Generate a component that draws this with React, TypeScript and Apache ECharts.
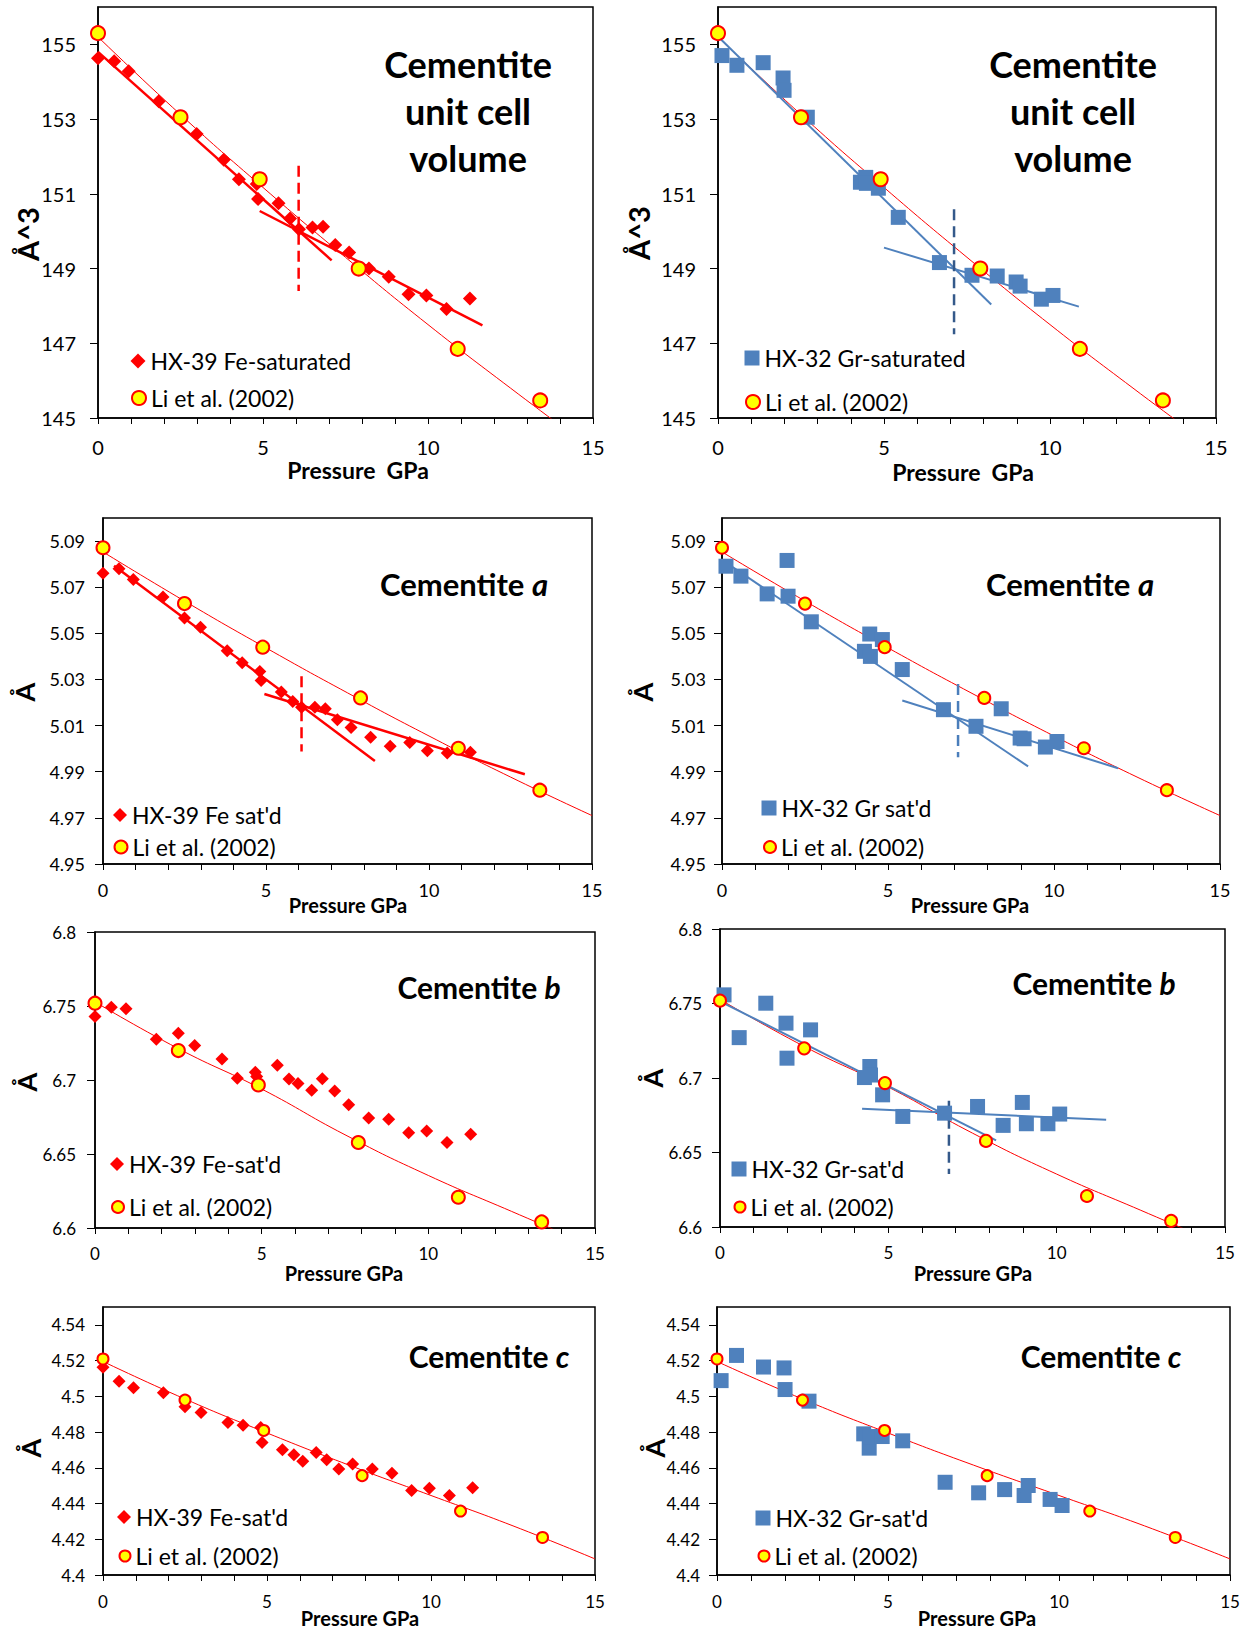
import React, { useEffect, useRef } from "react";
import * as echarts from "echarts";

const FONT = "Lato, 'Open Sans', 'DejaVu Sans', sans-serif";

// ---------------- data ----------------
// HX-39 (Fe-saturated) pressures, GPa
const pressureFe = [0, 0.49, 0.93, 1.84, 2.5, 2.99, 3.81, 4.27, 4.81, 4.85, 5.47, 5.82, 6.09, 6.5, 6.82, 7.19, 7.61, 8.21, 8.81, 9.41, 9.95, 10.56, 11.27];
const volumeFe = [154.63, 154.55, 154.28, 153.48, 152.98, 152.6, 151.91, 151.39, 151.26, 150.86, 150.75, 150.34, 150.05, 150.1, 150.12, 149.63, 149.43, 149.0, 148.78, 148.31, 148.28, 147.92, 148.2];
const aFe = [5.076, 5.078, 5.0733, 5.0658, 5.0567, 5.0526, 5.0425, 5.0372, 5.0335, 5.0296, 5.0246, 5.0205, 5.018, 5.018, 5.0173, 5.0125, 5.0092, 5.005, 5.001, 5.0027, 4.9991, 4.9981, 4.9985];
const bFe = [6.7429, 6.7492, 6.7481, 6.7275, 6.7316, 6.7233, 6.7142, 6.7011, 6.7052, 6.7023, 6.7099, 6.7007, 6.6977, 6.693, 6.7009, 6.6925, 6.6833, 6.6743, 6.6734, 6.6643, 6.6655, 6.6578, 6.6634];
const cFe = [4.5163, 4.5085, 4.5048, 4.502, 4.4942, 4.4909, 4.4853, 4.4838, 4.4825, 4.4742, 4.4701, 4.4673, 4.4636, 4.4686, 4.4645, 4.4593, 4.4621, 4.4593, 4.4569, 4.4473, 4.4486, 4.4445, 4.4488];

// HX-32 (Gr-saturated)
const pressureGr = [0.12, 0.57, 1.36, 1.96, 1.99, 2.69, 4.29, 4.45, 4.47, 4.83, 5.43, 6.67, 7.65, 8.41, 8.98, 9.1, 9.74, 10.09];
const volumeGr = [154.7, 154.44, 154.51, 154.1, 153.77, 153.05, 151.31, 151.44, 151.28, 151.15, 150.37, 149.16, 148.82, 148.8, 148.64, 148.53, 148.18, 148.28];
const aGr = [5.0791, 5.0748, 5.0671, 5.0816, 5.0661, 5.055, 5.0422, 5.0497, 5.04, 5.0473, 5.0343, 5.0169, 5.0097, 5.0173, 5.0046, 5.0043, 5.0007, 5.0031];
const bGr = [6.7558, 6.7271, 6.7502, 6.7368, 6.7133, 6.7323, 6.7003, 6.7077, 6.702, 6.6887, 6.6742, 6.6764, 6.6809, 6.6682, 6.6836, 6.6693, 6.6693, 6.6758];
const cGr = [4.5088, 4.5229, 4.5164, 4.5159, 4.5038, 4.4973, 4.479, 4.471, 4.4775, 4.4775, 4.4751, 4.4519, 4.446, 4.4478, 4.4445, 4.4501, 4.4423, 4.4389];

// Li et al. (2002)
const pressureLi = [0, 2.5, 4.9, 7.9, 10.9, 13.4];
const volumeLi = [155.3, 153.05, 151.39, 149.0, 146.85, 145.47];
const aLi = [5.0871, 5.0629, 5.044, 5.022, 5.0002, 4.982];
const bLi = [6.7519, 6.7199, 6.6966, 6.6578, 6.6208, 6.6041];
const cLi = [4.5209, 4.4979, 4.4809, 4.4556, 4.4358, 4.421];

// Li et al. fit curves, read at these pressures
const fitPressures = [0, 2.5, 5, 7.5, 10, 12.5, 15];
const volumeLiFit = [155.2, 153.12, 151.17, 149.3, 147.5, 145.8, 144.15];
const aLiFit = [5.0853, 5.064, 5.0437, 5.0242, 5.0055, 4.9877, 4.971];
const bLiFit = [6.7528, 6.7212, 6.6939, 6.663, 6.6355, 6.6112, 6.587];
const cLiFit = [4.5195, 4.4985, 4.4795, 4.4615, 4.4445, 4.4275, 4.409];

// fitted segments [P, value] and break lines [P, top, bottom]
const feVolumeFit1 = [[0, 154.8], [7.08, 149.22]];
const feVolumeFit2 = [[4.9, 150.54], [11.65, 147.48]];
const feVolumeBreak = [6.08, 151.75, 148.4];
const grVolumeFit1 = [[0, 155.21], [8.23, 148.04]];
const grVolumeFit2 = [[5.0, 149.56], [10.87, 147.98]];
const grVolumeBreak = [7.11, 150.59, 147.24];
const feAFit1 = [[0.34, 5.0793], [8.34, 4.9947]];
const feAFit2 = [[4.95, 5.0237], [12.94, 4.9889]];
const feABreak = [6.09, 5.0314, 4.9988];
const grAFit1 = [[0.13, 5.0806], [9.22, 4.9923]];
const grAFit2 = [[5.43, 5.0209], [11.93, 4.9915]];
const grABreak = [7.11, 5.028, 4.9963];
const grBFit1 = [[0.06, 6.7508], [8.2, 6.6581]];
const grBFit2 = [[4.22, 6.6793], [11.47, 6.672]];
const grBBreak = [6.8, 6.6847, 6.6355];

// tick labels
const volumeTicks = [145, 147, 149, 151, 153, 155];
const aTicks = [4.95, 4.97, 4.99, 5.01, 5.03, 5.05, 5.07, 5.09];
const bTicks = [6.6, 6.65, 6.7, 6.75, 6.8];
const cTicks = [4.4, 4.42, 4.44, 4.46, 4.48, 4.5, 4.52, 4.54];

const LI_NAME = "Li et al. (2002)";
const RED = "#FF0000";
const BLUE = "#4F81BD";

const zip = (xs: number[], ys: number[]) => xs.map((x, i) => [x, ys[i]]);

const panels: any[] = [
  {
    grid: { left: 98, top: 7, width: 495, height: 411 },
    yMin: 145, yMax: 156, yTicks: volumeTicks, tickFont: 20, xMargin: 19, yMargin: 22,
    sample: { name: "HX-39 Fe-saturated", x: pressureFe, y: volumeFe, symbol: "diamond", size: 14, color: RED },
    li: volumeLi, liSize: 14, liFit: volumeLiFit,
    fits: [feVolumeFit1, feVolumeFit2], fitColor: RED, fitWidth: 2.5, dash: feVolumeBreak, dashColor: RED,
    title: { text: "Cementite\nunit cell\nvolume", x: 468, y: 111, size: 36 },
    xName: { text: "Pressure  GPa", x: 358, y: 470, size: 23 },
    yName: { text: "Å^3", x: 27, y: 234, size: 29 },
    legend: { x: 138, y1: 361, y2: 398, s1: 15, s2: 14 },
  },
  {
    grid: { left: 718, top: 7, width: 498, height: 411 },
    yMin: 145, yMax: 156, yTicks: volumeTicks, tickFont: 20, xMargin: 19, yMargin: 22,
    sample: { name: "HX-32 Gr-saturated", x: pressureGr, y: volumeGr, symbol: "rect", size: 15, color: BLUE },
    li: volumeLi, liSize: 14, liFit: volumeLiFit,
    fits: [grVolumeFit1, grVolumeFit2], fitColor: BLUE, fitWidth: 2, dash: grVolumeBreak, dashColor: "#34598A",
    title: { text: "Cementite\nunit cell\nvolume", x: 1073, y: 111, size: 36 },
    xName: { text: "Pressure  GPa", x: 963, y: 472, size: 23 },
    yName: { text: "Å^3", x: 638, y: 233, size: 29 },
    legend: { x: 752, y1: 358, y2: 402, s1: 15, s2: 14 },
  },
  {
    grid: { left: 103, top: 518, width: 489, height: 346 },
    yMin: 4.95, yMax: 5.1, yTicks: aTicks, tickFont: 18, xMargin: 17, yMargin: 18,
    sample: { name: "HX-39 Fe sat'd", x: pressureFe, y: aFe, symbol: "diamond", size: 13, color: RED },
    li: aLi, liSize: 13, liFit: aLiFit,
    fits: [feAFit1, feAFit2], fitColor: RED, fitWidth: 2.5, dash: feABreak, dashColor: RED,
    title: { italic: "a", x: 464, y: 584, size: 31 },
    xName: { text: "Pressure GPa", x: 348, y: 905, size: 20 },
    yName: { text: "Å", x: 24, y: 692, size: 27 },
    legend: { x: 120, y1: 815, y2: 847, s1: 14, s2: 13 },
  },
  {
    grid: { left: 722, top: 518, width: 498, height: 346 },
    yMin: 4.95, yMax: 5.1, yTicks: aTicks, tickFont: 18, xMargin: 17, yMargin: 16,
    sample: { name: "HX-32 Gr sat'd", x: pressureGr, y: aGr, symbol: "rect", size: 15, color: BLUE },
    li: aLi, liSize: 12, liFit: aLiFit,
    fits: [grAFit1, grAFit2], fitColor: BLUE, fitWidth: 2, dash: grABreak, dashColor: "#4A7EBB",
    title: { italic: "a", x: 1070, y: 584, size: 31 },
    xName: { text: "Pressure GPa", x: 970, y: 905, size: 20 },
    yName: { text: "Å", x: 642, y: 692, size: 27 },
    legend: { x: 769, y1: 808, y2: 847, s1: 15, s2: 12 },
  },
  {
    grid: { left: 95, top: 932, width: 500, height: 296 },
    yMin: 6.6, yMax: 6.8, yTicks: bTicks, tickFont: 17, xMargin: 17, yMargin: 19,
    sample: { name: "HX-39 Fe-sat'd", x: pressureFe, y: bFe, symbol: "diamond", size: 13, color: RED },
    li: bLi, liSize: 13, liFit: bLiFit,
    fits: [], fitColor: RED, fitWidth: 2.5, dash: null, dashColor: RED,
    title: { italic: "b", x: 479, y: 987, size: 30 },
    xName: { text: "Pressure GPa", x: 344, y: 1273, size: 20 },
    yName: { text: "Å", x: 26, y: 1082, size: 27 },
    legend: { x: 117, y1: 1164, y2: 1207, s1: 14, s2: 12 },
  },
  {
    grid: { left: 720, top: 929, width: 505, height: 298 },
    yMin: 6.6, yMax: 6.8, yTicks: bTicks, tickFont: 17, xMargin: 17, yMargin: 18,
    sample: { name: "HX-32 Gr-sat'd", x: pressureGr, y: bGr, symbol: "rect", size: 15, color: BLUE },
    li: bLi, liSize: 12, liFit: bLiFit,
    fits: [grBFit1, grBFit2], fitColor: BLUE, fitWidth: 2, dash: grBBreak, dashColor: "#34598A",
    title: { italic: "b", x: 1094, y: 983, size: 30 },
    xName: { text: "Pressure GPa", x: 973, y: 1273, size: 20 },
    yName: { text: "Å", x: 652, y: 1078, size: 27 },
    legend: { x: 739, y1: 1169, y2: 1207, s1: 15, s2: 11 },
  },
  {
    grid: { left: 103, top: 1307, width: 492, height: 268 },
    yMin: 4.4, yMax: 4.55, yTicks: cTicks, tickFont: 17, xMargin: 18, yMargin: 18,
    sample: { name: "HX-39 Fe-sat'd", x: pressureFe, y: cFe, symbol: "diamond", size: 13, color: RED },
    li: cLi, liSize: 11, liFit: cLiFit,
    fits: [], fitColor: RED, fitWidth: 2.5, dash: null, dashColor: RED,
    title: { italic: "c", x: 489, y: 1356, size: 30 },
    xName: { text: "Pressure GPa", x: 360, y: 1618, size: 20 },
    yName: { text: "Å", x: 30, y: 1448, size: 27 },
    legend: { x: 124, y1: 1517, y2: 1556, s1: 14, s2: 11 },
  },
  {
    grid: { left: 717, top: 1307, width: 513, height: 268 },
    yMin: 4.4, yMax: 4.55, yTicks: cTicks, tickFont: 17, xMargin: 18, yMargin: 17,
    sample: { name: "HX-32 Gr-sat'd", x: pressureGr, y: cGr, symbol: "rect", size: 15, color: BLUE },
    li: cLi, liSize: 11, liFit: cLiFit,
    fits: [], fitColor: BLUE, fitWidth: 2, dash: null, dashColor: BLUE,
    title: { italic: "c", x: 1101, y: 1356, size: 30 },
    xName: { text: "Pressure GPa", x: 977, y: 1618, size: 20 },
    yName: { text: "Å", x: 654, y: 1448, size: 27 },
    legend: { x: 763, y1: 1518, y2: 1556, s1: 15, s2: 11 },
  },
];

export default function App() {
  const ref = useRef<HTMLDivElement>(null);

  useEffect(() => {
    if (!ref.current) return;
    const chart = echarts.init(ref.current, undefined, { renderer: "svg" });
    const grid: any[] = [];
    const xAxis: any[] = [];
    const yAxis: any[] = [];
    const series: any[] = [];
    const legend: any[] = [];
    const graphic: any[] = [];

    panels.forEach((p, i) => {
      grid.push({ ...p.grid, show: true, borderColor: "#000", borderWidth: 1.5, backgroundColor: "rgba(0,0,0,0)" });
      xAxis.push({
        type: "value", gridIndex: i, min: 0, max: 15, interval: 1,
        axisLine: { show: true, onZero: false, lineStyle: { color: "#000", width: 1.5 } },
        axisTick: { show: true, length: 6, lineStyle: { color: "#000", width: 1 } },
        axisLabel: {
          color: "#000", fontFamily: FONT, fontSize: p.tickFont, margin: p.xMargin,
          formatter: (v: number) => (Math.abs(v % 5) < 1e-9 ? String(v) : ""),
        },
        splitLine: { show: false },
      });
      yAxis.push({
        type: "value", gridIndex: i, min: p.yMin, max: p.yMax,
        axisLine: { show: true, onZero: false, lineStyle: { color: "#000", width: 1.5 } },
        axisTick: { show: true, length: 8, customValues: p.yTicks, lineStyle: { color: "#000", width: 1 } },
        axisLabel: {
          color: "#000", fontFamily: FONT, fontSize: p.tickFont, margin: p.yMargin, customValues: p.yTicks,
          formatter: (v: number) => String(+(+v).toFixed(3)),
        },
        splitLine: { show: false },
      });

      // Li et al. fit curve
      series.push({
        type: "line", xAxisIndex: i, yAxisIndex: i, data: zip(fitPressures, p.liFit),
        smooth: true, symbol: "none", silent: true, clip: true,
        lineStyle: { color: RED, width: 1 }, z: 2,
      });
      // sample fit segments
      p.fits.forEach((seg: number[][]) => {
        series.push({
          type: "line", xAxisIndex: i, yAxisIndex: i, data: seg, symbol: "none", silent: true,
          lineStyle: { color: p.fitColor, width: p.fitWidth }, z: 2,
        });
      });
      if (p.dash) {
        series.push({
          type: "line", xAxisIndex: i, yAxisIndex: i,
          data: [[p.dash[0], p.dash[1]], [p.dash[0], p.dash[2]]], symbol: "none", silent: true,
          lineStyle: { color: p.dashColor, width: 2.5, type: [11, 6] }, z: 2,
        });
      }
      // samples
      series.push({
        type: "scatter", name: p.sample.name, xAxisIndex: i, yAxisIndex: i,
        data: zip(p.sample.x, p.sample.y), symbol: p.sample.symbol, symbolSize: p.sample.size,
        itemStyle: { color: p.sample.color, opacity: 1 }, clip: false, z: 3,
      });
      // Li et al.
      series.push({
        type: "scatter", name: LI_NAME, xAxisIndex: i, yAxisIndex: i,
        data: zip(pressureLi, p.li), symbol: "circle", symbolSize: p.liSize,
        itemStyle: { color: "#FFFF00", borderColor: RED, borderWidth: 2, opacity: 1 }, clip: false, z: 4,
      });

      // legends
      const lg = p.legend;
      const textStyle = { fontFamily: FONT, fontSize: 23, color: "#000", lineHeight: 26 };
      legend.push({
        left: lg.x - lg.s1 / 2, top: lg.y1 - 13, padding: 0, itemWidth: lg.s1, itemHeight: lg.s1,
        selectedMode: false, textStyle,
        data: [{ name: p.sample.name, icon: p.sample.symbol, itemStyle: { color: p.sample.color, borderWidth: 0 } }],
      });
      legend.push({
        left: lg.x - lg.s2 / 2, top: lg.y2 - 13, padding: 0, itemWidth: lg.s2, itemHeight: lg.s2,
        selectedMode: false, textStyle,
        data: [{ name: LI_NAME, icon: "circle", itemStyle: { color: "#FFFF00", borderColor: RED, borderWidth: 2 } }],
      });

      // title
      const t = p.title;
      if (t.italic) {
        graphic.push({
          type: "text", x: t.x, y: t.y, silent: true,
          style: {
            text: "{n|Cementite }{i|" + t.italic + "}",
            align: "center", verticalAlign: "middle",
            rich: {
              n: { fontFamily: FONT, fontSize: t.size, fontWeight: "bold", fill: "#000" },
              i: { fontFamily: FONT, fontSize: t.size, fontWeight: "bold", fontStyle: "italic", fill: "#000" },
            },
          },
        });
      } else {
        graphic.push({
          type: "text", x: t.x, y: t.y, silent: true,
          style: {
            text: t.text, fontFamily: FONT, fontSize: t.size, fontWeight: "bold", fill: "#000",
            align: "center", verticalAlign: "middle", lineHeight: 47,
          },
        });
      }
      // axis names
      graphic.push({
        type: "text", x: p.xName.x, y: p.xName.y, silent: true,
        style: {
          text: p.xName.text, fontFamily: FONT, fontSize: p.xName.size, fontWeight: "bold", fill: "#000",
          align: "center", verticalAlign: "middle",
        },
      });
      graphic.push({
        type: "text", x: p.yName.x, y: p.yName.y, rotation: Math.PI / 2, silent: true,
        style: {
          text: p.yName.text, fontFamily: FONT, fontSize: p.yName.size, fontWeight: "bold", fill: "#000",
          align: "center", verticalAlign: "middle",
        },
      });
    });

    chart.setOption({ animation: false, grid, xAxis, yAxis, series, legend, graphic });
    return () => chart.dispose();
  }, []);

  return (
    <div
      ref={ref}
      style={{ position: "absolute", left: 0, top: 0, width: 1247, height: 1629, background: "#fff" }}
    />
  );
}
